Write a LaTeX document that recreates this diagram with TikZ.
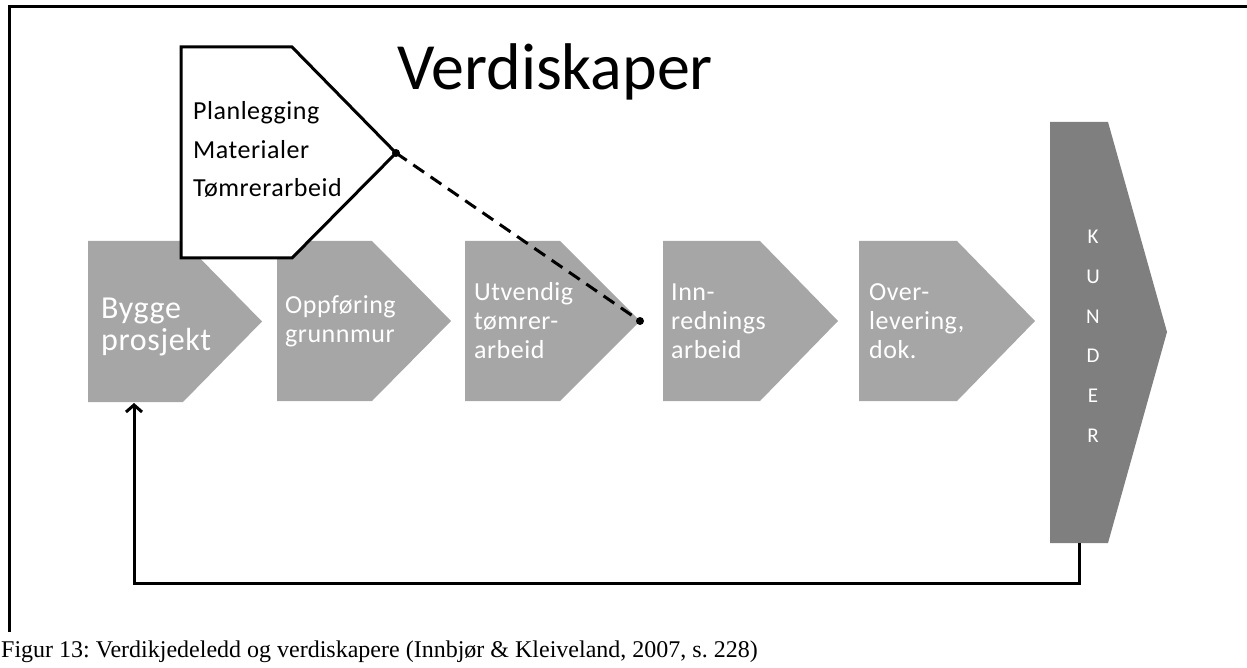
\documentclass[tikz,border=0pt]{standalone}
\usepackage{fontspec}
\setmainfont{Carlito}
\newfontfamily\labelfont{Carlito}[LetterSpace=2]
\newfontfamily\capfont{Liberation Serif}
\usetikzlibrary{arrows.meta}
\definecolor{stepgray}{HTML}{A6A6A6}
\definecolor{custgray}{HTML}{7F7F7F}
\frenchspacing

\begin{document}
\begin{tikzpicture}[x=1pt,y=-1pt,
  stepshape/.style={fill=stepgray,draw=none},
  custshape/.style={fill=custgray,draw=none},
  steptext/.style={anchor=base west,align=left,text=white,inner sep=0pt,
    font=\labelfont\fontsize{26}{29}\selectfont},
  resourcetext/.style={anchor=base west,align=left,text=black,inner sep=0pt,
    font=\labelfont\fontsize{26}{38.5}\selectfont},
  custletter/.style={text=white,inner sep=0pt,font=\labelfont\fontsize{21}{21}\selectfont},
  link/.style={line width=3pt},
  enddot/.style={circle,fill=black,inner sep=0pt,minimum size=8pt}]

\useasboundingbox (0,0) rectangle (1247,668);

% frame
\draw[line width=3pt] (9,632) -- (9,7) -- (1247,7);

% title
\node[anchor=base west,inner sep=0pt,font=\fontsize{66}{66}\selectfont] (title) at (397,90) {Verdiskaper};

% value chain steps
\fill[stepshape] (88,241) -- (183,241) -- (262,321.5) -- (183,402) -- (88,402) -- cycle;
\fill[stepshape] (277,241) -- (372,241) -- (451,321) -- (372,401) -- (277,401) -- cycle;
\fill[stepshape] (465,241) -- (560,241) -- (640,321) -- (560,401) -- (465,401) -- cycle;
\fill[stepshape] (663,241) -- (760,241) -- (838,321) -- (760,401) -- (663,401) -- cycle;
\fill[stepshape] (859,241) -- (957,241) -- (1035,321) -- (957,401) -- (859,401) -- cycle;

% customers
\fill[custshape] (1050,122) -- (1108,122) -- (1167,332) -- (1108,543) -- (1050,543) -- cycle;

% step labels (anchored at the baseline of the last line)
\node[steptext,font=\labelfont\fontsize{32}{32}\selectfont] (bygge) at (101,350) {Bygge\\prosjekt};
\node[steptext] (oppf) at (285,342) {Oppføring\\grunnmur};
\node[steptext] (utv) at (474,358) {Utvendig\\tømrer-\\arbeid};
\node[steptext] (innr) at (671,358) {Inn-\\rednings\\arbeid};
\node[steptext] (overl) at (869,358) {Over-\\levering,\\dok.};

% customer letters
\node[custletter] (k1) at (1093,237) {K};
\node[custletter] (k2) at (1093,277) {U};
\node[custletter] (k3) at (1093,317) {N};
\node[custletter] (k4) at (1093,356) {D};
\node[custletter] (k5) at (1093,396) {E};
\node[custletter] (k6) at (1093,436) {R};

% resource box
\draw[fill=white,line width=3pt,line join=miter] (181,47) -- (292,47) -- (396,153) -- (292,258) -- (181,258) -- cycle;
\node[resourcetext] (res) at (193,197) {Planlegging\\Materialer\\Tømrerarbeid};

% dashed link from the resource box to the carpentry step
\coordinate (restip) at (396,153);
\coordinate (utvtip) at (640,321);
\draw[link,dash pattern=on 13pt off 8pt] (restip) -- (utvtip);
\node[enddot] (d1) at (restip) {};
\node[enddot] (d2) at (utvtip) {};

% feedback from customers back to the project
\coordinate (custbot) at (1079,543);
\coordinate (byggebot) at (134,403);
\draw[link,-{Straight Barb[length=7pt,width=16pt,line width=3pt]}]
  (custbot) -- (1079,583) -- (134,583) -- (byggebot);

% caption
\node[anchor=base west,inner sep=0pt,font=\capfont\fontsize{24}{24}\selectfont] (cap) at (1,657)
  {Figur 13: Verdikjedeledd og verdiskapere (Innbjør \& Kleiveland, 2007, s. 228)};
\end{tikzpicture}
\end{document}
